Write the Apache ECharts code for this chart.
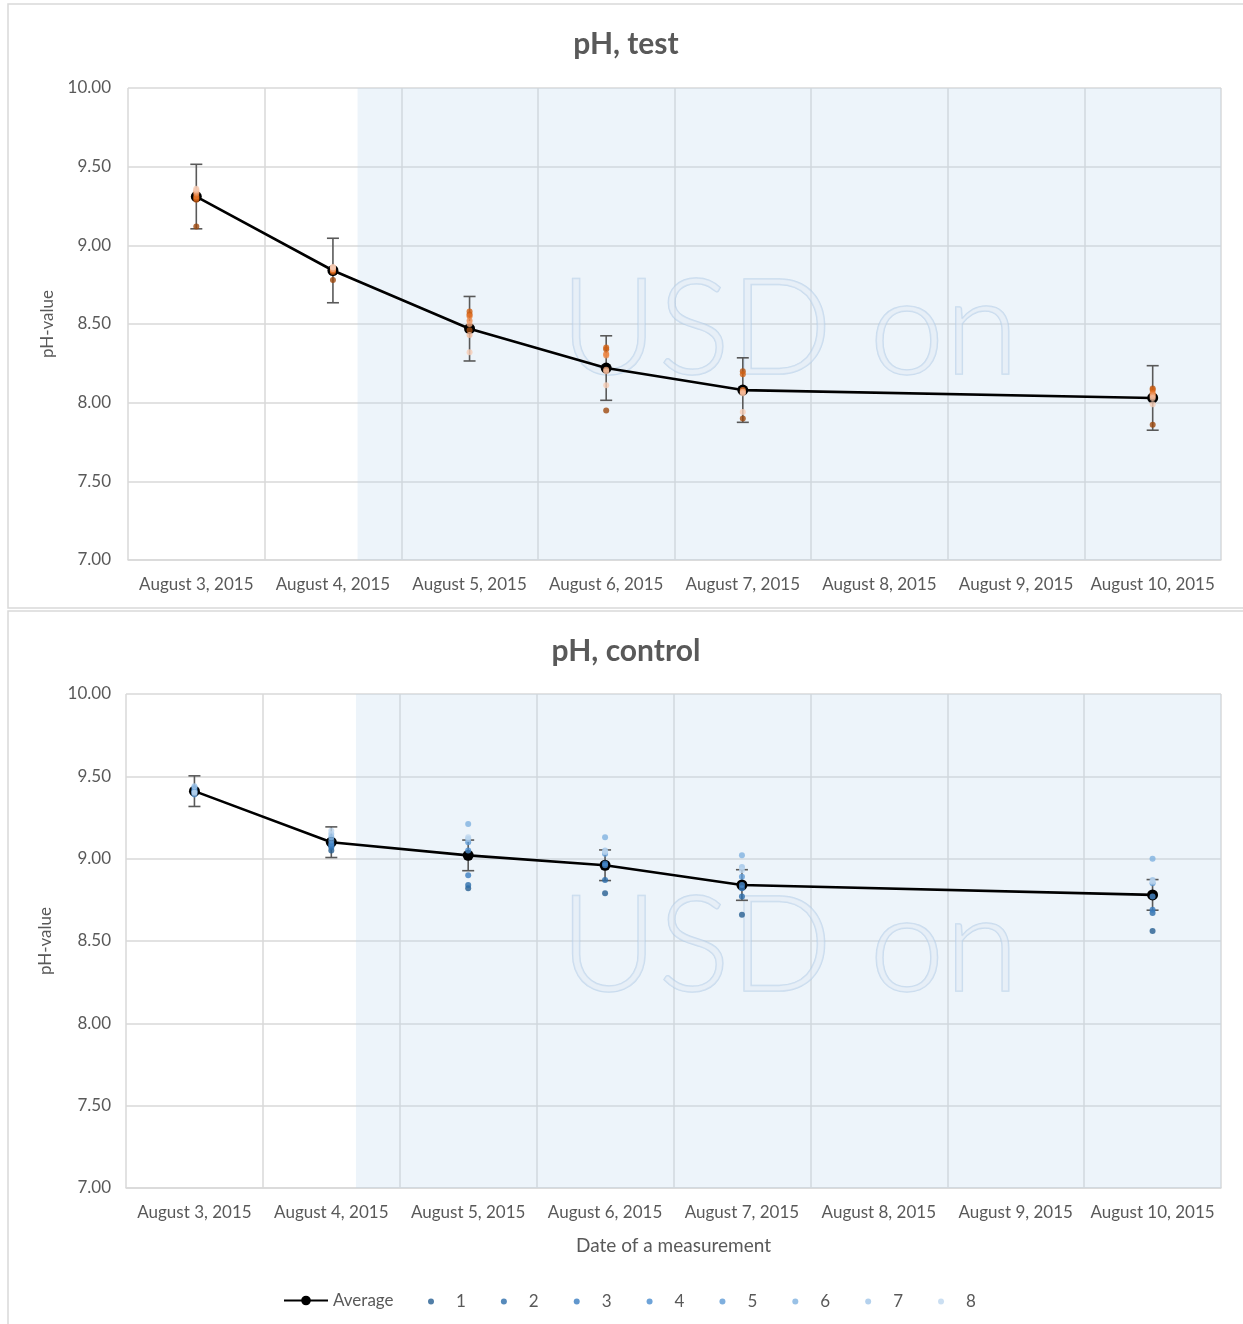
<!DOCTYPE html>
<html>
<head>
<meta charset="utf-8">
<script src="https://cdn.jsdelivr.net/npm/echarts@6/dist/echarts.min.js"></script>
<style>
html,body{margin:0;padding:0;background:#fff;}
#c{width:1243px;height:1324px;}
</style>
</head>
<body>
<div id="c"></div>
<script>
const dates = ['August 3, 2015','August 4, 2015','August 5, 2015','August 6, 2015','August 7, 2015','August 8, 2015','August 9, 2015','August 10, 2015'];
const yTicks = [7.00, 7.50, 8.00, 8.50, 9.00, 9.50, 10.00];
const seriesNames = ['1','2','3','4','5','6','7','8'];

// pH, test
const testAverage = [9.31, 8.84, 8.47, 8.22, 8.08, null, null, 8.03];
const testError   = [0.205, 0.205, 0.205, 0.205, 0.205, null, null, 0.205];
const test1 = [9.12, 8.78, 8.46, 7.95, 7.90, null, null, 7.86];
const test2 = [9.29, 8.83, 8.56, 8.34, 8.20, null, null, 8.09];
const test3 = [9.30, 8.84, 8.58, 8.35, 8.18, null, null, 8.08];
const test4 = [9.31, 8.84, 8.55, 8.31, 8.08, null, null, 8.06];
const test5 = [9.33, 8.85, 8.52, 8.30, 8.07, null, null, 8.05];
const test6 = [9.34, 8.85, 8.50, 8.21, 8.07, null, null, 8.04];
const test7 = [9.35, 8.86, 8.43, 8.20, 8.06, null, null, 8.03];
const test8 = [9.36, 8.86, 8.32, 8.11, 7.94, null, null, 7.99];

// pH, control
const controlAverage = [9.41, 9.10, 9.02, 8.96, 8.84, null, null, 8.78];
const controlError   = [0.093, 0.093, 0.093, 0.093, 0.093, null, null, 0.093];
const control1 = [9.40, 9.05, 8.82, 8.79, 8.66, null, null, 8.56];
const control2 = [9.41, 9.07, 8.84, 8.87, 8.77, null, null, 8.67];
const control3 = [9.42, 9.08, 8.90, 8.97, 8.82, null, null, 8.69];
const control4 = [9.43, 9.09, 9.05, 8.96, 8.84, null, null, 8.77];
const control5 = [9.39, 9.11, 9.10, 9.03, 8.89, null, null, 8.85];
const control6 = [9.41, 9.13, 9.21, 9.13, 9.02, null, null, 9.00];
const control7 = [9.44, 9.15, 9.12, 9.05, 8.95, null, null, 8.87];
const control8 = [9.40, 9.17, 9.13, 9.04, 8.93, null, null, 8.86];

const testPoints = [test1, test2, test3, test4, test5, test6, test7, test8];
const controlPoints = [control1, control2, control3, control4, control5, control6, control7, control8];

const orangeShades = ['#9E480E','#B9540F','#D26114','#E8762B','#EE8C4E','#F2A67A','#F4BC9C','#F6CDB6'];
const blueShades   = ['#255E91','#2C6DAA','#3A7DC0','#4A8CCE','#5F9BD6','#80B1E0','#A1C5E8','#BED7EF'];

const FONT = 'Lato';
const GREY = '#595959';
const GRID_COLOR = '#D9D9D9';

const chart = echarts.init(document.getElementById('c'), null, {renderer:'canvas'});

function errData(avg, err){
  const out = [];
  avg.forEach((v,i)=>{ if(v!=null && err[i]!=null) out.push([i, v-err[i], v+err[i]]); });
  return out;
}
function errRender(params, api){
  const x = api.value(0);
  const p1 = api.coord([x, api.value(2)]);
  const p2 = api.coord([x, api.value(1)]);
  const w = 6;
  const st = {stroke:'#595959', lineWidth:1.6};
  return {type:'group', children:[
    {type:'line', shape:{x1:p1[0],y1:p1[1],x2:p2[0],y2:p2[1]}, style:st},
    {type:'line', shape:{x1:p1[0]-w,y1:p1[1],x2:p1[0]+w,y2:p1[1]}, style:st},
    {type:'line', shape:{x1:p2[0]-w,y1:p2[1],x2:p2[0]+w,y2:p2[1]}, style:st}
  ]};
}

function xCat(gridIndex, showName){
  return {
    type:'category', gridIndex, data:dates, boundaryGap:true,
    axisLine:{show:true, lineStyle:{color:GRID_COLOR, width:1.5}},
    axisTick:{show:false},
    axisLabel:{interval:0, color:GREY, fontSize:17, fontFamily:FONT, margin:16},
    splitLine:{show:true, interval:0, lineStyle:{color:GRID_COLOR, width:1.5}},
    name: showName ? 'Date of a measurement' : '',
    nameLocation:'middle', nameGap:48,
    nameTextStyle:{color:GREY, fontSize:19, fontFamily:FONT}
  };
}
function xVal(gridIndex){
  return {type:'value', gridIndex, min:0, max:8, show:false, splitLine:{show:false}};
}
function yAx(gridIndex, margin){
  return {
    type:'value', gridIndex, min:7, max:10, interval:0.5,
    axisLine:{show:false}, axisTick:{show:false},
    axisLabel:{color:GREY, fontSize:17, fontFamily:FONT, margin, formatter:v=>v.toFixed(2)},
    splitLine:{show:true, lineStyle:{color:GRID_COLOR, width:1.5}},
    name:'pH-value', nameLocation:'middle', nameRotate:90, nameGap:72,
    nameTextStyle:{color:GREY, fontSize:17, fontFamily:FONT}
  };
}

const series = [];
function addChart(gi, avg, err, points, shades, prefix){
  series.push({
    type:'scatter', name:prefix+'shade', xAxisIndex:gi*2+1, yAxisIndex:gi, data:[], z:1, silent:true,
    markArea:{silent:true, itemStyle:{color:'rgba(189,215,238,0.27)'},
      data:[[{xAxis:1.68, yAxis:7},{xAxis:8, yAxis:10}]]}
  });
  series.push({
    type:'custom', name:prefix+'err', xAxisIndex:gi*2, yAxisIndex:gi, z:3, silent:true,
    renderItem:errRender, encode:{x:0, y:[1,2]}, data:errData(avg, err)
  });
  series.push({
    type:'line', name: gi===1 ? 'Average' : prefix+'Average', xAxisIndex:gi*2, yAxisIndex:gi, z:4,
    data:avg, connectNulls:true, symbol:'circle', symbolSize:11, showSymbol:true,
    lineStyle:{color:'#000', width:2.6}, itemStyle:{color:'#000'}
  });
  points.forEach((arr, k)=>{
    series.push({
      type:'scatter', name: gi===1 ? seriesNames[k] : prefix+seriesNames[k],
      xAxisIndex:gi*2, yAxisIndex:gi, z:5,
      data:arr, symbol:'circle', symbolSize:6, itemStyle:{color:shades[k]}
    });
  });
}
addChart(0, testAverage, testError, testPoints, orangeShades, 'test-');
addChart(1, controlAverage, controlError, controlPoints, blueShades, 'ctrl-');

function watermark(top){
  return {
    type:'text', left:559, top, z:2, silent:true,
    style:{text:'USD on', fontSize:135, fontFamily:FONT, fontWeight:300,
      fill:'rgba(225,233,243,0.45)', stroke:'rgba(170,198,228,0.55)', lineWidth:1.5}
  };
}

chart.setOption({
  animation:false,
  backgroundColor:'#fff',
  title:[
    {text:'pH, test', left:621, textAlign:'center', top:24, textStyle:{color:GREY, fontSize:30, fontWeight:'bold', fontFamily:FONT}},
    {text:'pH, control', left:621, textAlign:'center', top:631, textStyle:{color:GREY, fontSize:30, fontWeight:'bold', fontFamily:FONT}}
  ],
  grid:[
    {left:128, right:22, top:88, height:472},
    {left:126, right:22, top:694, height:494}
  ],
  xAxis:[xCat(0,false), xVal(0), xCat(1,true), xVal(1)],
  yAxis:[yAx(0,17), yAx(1,15)],
  legend:[
    {data:['Average'], left:278, top:1287, itemWidth:44, itemHeight:12, itemGap:0,
      textStyle:{color:GREY, fontSize:17, fontFamily:FONT}},
    {data:seriesNames, left:423, top:1288, itemWidth:6, itemHeight:6, itemGap:35, icon:'circle',
      textStyle:{color:GREY, fontSize:17, fontFamily:FONT, padding:[0,0,0,17]}}
  ],
  graphic:[
    {type:'rect', shape:{x:8, y:4, width:1260, height:604}, style:{fill:'none', stroke:'#D9D9D9', lineWidth:1.5}, z:0, silent:true},
    {type:'rect', shape:{x:8, y:611, width:1260, height:740}, style:{fill:'none', stroke:'#D9D9D9', lineWidth:1.5}, z:0, silent:true},
    watermark(262),
    watermark(879)
  ],
  series
});
</script>
</body>
</html>
